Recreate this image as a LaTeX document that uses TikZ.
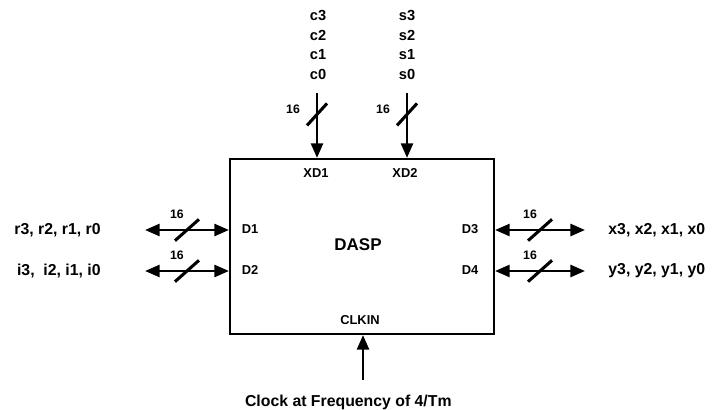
\documentclass[tikz,border=0pt]{standalone}
\usepackage{fontspec}
\setmainfont{Liberation Sans}
\usetikzlibrary{positioning, arrows.meta, calc}
\tikzset{
  chipbox/.style={draw, line width=1.8pt, minimum width=7.92cm, minimum height=5.25cm, inner sep=0pt},
  biglbl/.style={font=\fontsize{13.5}{16}\selectfont\bfseries, inner sep=1pt},
  collbl/.style={font=\fontsize{12.5}{17}\selectfont\bfseries, align=center, inner sep=1pt},
  pinlbl/.style={font=\fontsize{11}{13}\selectfont\bfseries, inner sep=1pt},
  widthlbl/.style={font=\fontsize{10.5}{12}\selectfont\bfseries, inner sep=1pt},
  busarr/.style={-{Triangle[length=0.44cm,width=0.36cm]}, line width=2.3pt},
  bibus/.style={{Triangle[length=0.44cm,width=0.36cm]}-{Triangle[length=0.44cm,width=0.36cm]}, line width=2.3pt},
  busslash/.style={line width=2.6pt},
}

\begin{document}
\begin{tikzpicture}[>=Stealth]
  \useasboundingbox (0,0) rectangle (21.66,12.27);
  \node[chipbox] (dasp) at (10.86,4.875) {};
  \node[font=\fontsize{14.5}{16}\selectfont\bfseries] (name) at (10.74,4.92) {DASP};
  \node[pinlbl] (xd1) at (9.48,7.08) {XD1};
  \node[pinlbl] (xd2) at (12.15,7.08) {XD2};
  \node[pinlbl] (d1) at (7.5,5.4) {D1};
  \node[pinlbl] (d2) at (7.5,4.17) {D2};
  \node[pinlbl] (d3) at (14.1,5.4) {D3};
  \node[pinlbl] (d4) at (14.1,4.17) {D4};
  \node[pinlbl] (clkin) at (10.8,2.67) {CLKIN};

  \node[collbl] (cin) at (9.54,10.92) {c3\\c2\\c1\\c0};
  \node[collbl] (sin) at (12.21,10.92) {s3\\s2\\s1\\s0};
  \coordinate (ctail) at (9.51,9.48);
  \coordinate (stail) at (12.21,9.48);
  \draw[busarr] (ctail) -- (ctail |- dasp.north) coordinate[pos=0.33] (cs);
  \draw[busarr] (stail) -- (stail |- dasp.north) coordinate[pos=0.33] (ss);
  \draw[busslash] ($(cs)+(-0.3,-0.33)$) -- ($(cs)+(0.3,0.33)$);
  \draw[busslash] ($(ss)+(-0.3,-0.33)$) -- ($(ss)+(0.3,0.33)$);
  \node[widthlbl] (cw) at ($(cs)+(-0.72,0.15)$) {16};
  \node[widthlbl] (sw) at ($(ss)+(-0.72,0.15)$) {16};

  \node[biglbl, anchor=east] (rlbl) at (3.06,5.37) {r3, r2, r1, r0};
  \node[biglbl, anchor=east] (ilbl) at (3.06,4.14) {i3,~ i2, i1, i0};
  \node[biglbl, anchor=west] (xlbl) at (18.21,5.37) {x3, x2, x1, x0};
  \node[biglbl, anchor=west] (ylbl) at (18.21,4.14) {y3, y2, y1, y0};
  \draw[bibus] ($(rlbl.east)+(1.29,0)$) -- (rlbl -| dasp.west) coordinate[midway] (rs);
  \draw[bibus] ($(ilbl.east)+(1.29,0)$) -- (ilbl -| dasp.west) coordinate[midway] (is);
  \draw[bibus] (xlbl -| dasp.east) -- ($(xlbl.west)+(-0.66,0)$) coordinate[midway] (xs);
  \draw[bibus] (ylbl -| dasp.east) -- ($(ylbl.west)+(-0.66,0)$) coordinate[midway] (ys);
  \foreach \s in {rs,is,xs,ys}{
    \draw[busslash] ($(\s)+(-0.36,-0.32)$) -- ($(\s)+(0.36,0.32)$);
    \node[widthlbl] (\s w) at ($(\s)+(-0.3,0.46)$) {16};
  }

  \node[biglbl, anchor=base] (clk) at (10.45,0.09) {Clock at Frequency of 4/Tm};
  \coordinate (clktail) at (10.89,0.87);
  \draw[busarr] (clktail) -- (clktail |- dasp.south);
\end{tikzpicture}
\end{document}
